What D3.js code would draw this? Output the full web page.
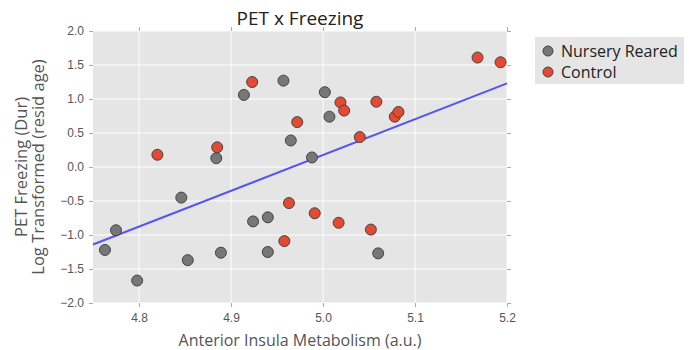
<!DOCTYPE html>
<html>
<head>
<meta charset="utf-8">
<script src="https://cdn.jsdelivr.net/npm/d3@7"></script>
<style>
  body { margin: 0; background: #fff; }
  svg { display: block; font-family: "Open Sans", "DejaVu Sans", sans-serif; }
</style>
</head>
<body>
<svg id="chart" width="689" height="350"></svg>
<script>
// ---- data ----
const nurseryX = [4.763, 4.775, 4.798, 4.846, 4.853, 4.889, 4.884, 4.914, 4.957, 4.965, 4.924, 4.940, 4.940, 4.988, 5.002, 5.007, 5.060];
const nurseryY = [-1.22, -0.93, -1.67, -0.45, -1.37, -1.26, 0.13, 1.06, 1.27, 0.39, -0.80, -0.74, -1.25, 0.14, 1.10, 0.74, -1.27];
const controlX = [4.820, 4.885, 4.923, 4.972, 4.963, 4.958, 4.991, 5.017, 5.052, 5.019, 5.023, 5.058, 5.040, 5.078, 5.082, 5.168, 5.193];
const controlY = [0.18, 0.29, 1.25, 0.66, -0.53, -1.09, -0.68, -0.82, -0.92, 0.95, 0.83, 0.96, 0.44, 0.74, 0.81, 1.61, 1.54];
const fitX = [4.75, 5.20];
const fitY = [-1.14, 1.23];
const xTicks = [4.8, 4.9, 5.0, 5.1, 5.2];
const yTicks = [2.0, 1.5, 1.0, 0.5, 0.0, -0.5, -1.0, -1.5, -2.0];
const seriesNames = ["Nursery Reared", "Control"];
const seriesColors = ["#777777", "#E24A33"];

// ---- layout ----
const svg = d3.select("#chart");
const L = 93, R = 507, T = 31, B = 303;
const x = d3.scaleLinear().domain([4.75, 5.2]).range([L, R]);
const y = d3.scaleLinear().domain([-2, 2]).range([B, T]);

svg.append("rect").attr("x", L).attr("y", T).attr("width", R - L).attr("height", B - T).attr("fill", "#E5E5E5");

// grid
const g = svg.append("g");
g.selectAll(".gx").data(xTicks).enter().append("line")
  .attr("x1", d => x(d)).attr("x2", d => x(d)).attr("y1", T).attr("y2", B)
  .attr("stroke", "#fff").attr("stroke-width", 1);
g.selectAll(".gy").data(yTicks).enter().append("line")
  .attr("y1", d => y(d)).attr("y2", d => y(d)).attr("x1", L).attr("x2", R)
  .attr("stroke", "#fff").attr("stroke-width", 1);

// axes
const fmt = d => d < 0 ? "\u2212" + Math.abs(d).toFixed(1) : d.toFixed(1);
const axB = d3.axisBottom(x).tickValues(xTicks).tickSize(4).tickPadding(6).tickFormat(fmt);
const axL = d3.axisLeft(y).tickValues(yTicks).tickSize(4).tickPadding(5).tickFormat(fmt);
const axT = d3.axisTop(x).tickValues(xTicks).tickSize(4).tickFormat("");
const axR = d3.axisRight(y).tickValues(yTicks).tickSize(4).tickFormat("");
function style(sel) {
  sel.select(".domain").remove();
  sel.selectAll("line").attr("stroke", "#aaa");
  sel.selectAll("text").attr("fill", "#555").style("font-size", "12px");
}
svg.append("g").attr("transform", `translate(0,${B})`).call(axB).call(style);
svg.append("g").attr("transform", `translate(${L},0)`).call(axL).call(style);
svg.append("g").attr("transform", `translate(0,${T})`).call(axT).call(style);
svg.append("g").attr("transform", `translate(${R},0)`).call(axR).call(style);

// fit line
svg.append("path")
  .datum(fitX.map((d, i) => [d, fitY[i]]))
  .attr("d", d3.line().x(d => x(d[0])).y(d => y(d[1])))
  .attr("fill", "none").attr("stroke", "#5555F0").attr("stroke-width", 2);

// points
const series = [
  nurseryX.map((d, i) => [d, nurseryY[i]]),
  controlX.map((d, i) => [d, controlY[i]])
];
series.forEach((pts, si) => {
  svg.append("g").selectAll("circle").data(pts).enter().append("circle")
    .attr("cx", d => x(d[0])).attr("cy", d => y(d[1])).attr("r", 5.5)
    .attr("fill", seriesColors[si]).attr("stroke", "#444").attr("stroke-width", 1);
});

// title and labels
svg.append("text").attr("x", (L + R) / 2).attr("y", 25).attr("text-anchor", "middle")
  .attr("fill", "#222").style("font-size", "19px").text("PET x Freezing");
svg.append("text").attr("x", (L + R) / 2).attr("y", 346).attr("text-anchor", "middle")
  .attr("fill", "#555").style("font-size", "16px").text("Anterior Insula Metabolism (a.u.)");
const yl = svg.append("text").attr("transform", `translate(0,${(T + B) / 2}) rotate(-90)`)
  .attr("text-anchor", "middle").attr("fill", "#555").style("font-size", "16.5px");
yl.append("tspan").attr("x", 0).attr("y", 27).text("PET Freezing (Dur)");
yl.append("tspan").attr("x", 0).attr("y", 44).text("Log Transformed (resid age)");

// legend
const lg = svg.append("g");
lg.append("rect").attr("x", 535).attr("y", 37).attr("width", 149).attr("height", 47).attr("fill", "#E5E5E5");
seriesNames.forEach((n, i) => {
  lg.append("circle").attr("cx", 548).attr("cy", 51 + i * 21).attr("r", 5)
    .attr("fill", seriesColors[i]).attr("stroke", "#444").attr("stroke-width", 1);
  lg.append("text").attr("x", 561).attr("y", 57 + i * 21).attr("fill", "#222")
    .style("font-size", "16px").text(n);
});
</script>
</body>
</html>
